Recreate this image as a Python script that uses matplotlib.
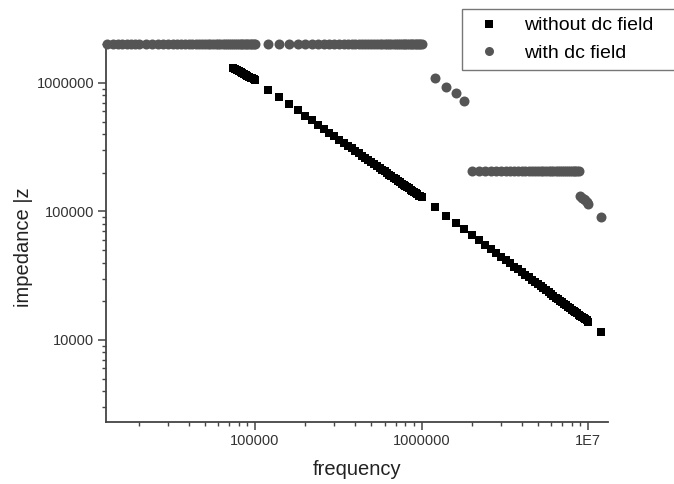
import numpy as np
import matplotlib
matplotlib.use('Agg')
import matplotlib.pyplot as plt
from matplotlib.ticker import LogLocator, NullFormatter

# frequencies in kHz, impedance |z in ohm
freq_khz_no_dc = [
    74, 76, 78, 80, 82, 84, 86, 88, 90, 92, 94, 96, 98, 100,
    120, 140, 160, 180, 200, 220, 240, 260, 280, 300, 320, 340, 360, 380, 400,
    420, 440, 460, 480, 500, 520, 540, 560, 580, 600, 620, 640, 660, 680, 700,
    720, 740, 760, 780, 800, 820, 840, 860, 880, 900, 920, 940, 960, 980, 1000,
    1200, 1400, 1600, 1800, 2000, 2200, 2400, 2600, 2800, 3000, 3200, 3400, 3600,
    3800, 4000, 4200, 4400, 4600, 4800, 5000, 5200, 5400, 5600, 5800, 6000, 6200,
    6400, 6600, 6800, 7000, 7200, 7400, 7600, 7800, 8000, 8200, 8400, 8600, 8800,
    9000, 9200, 9400, 9600, 9800, 10000, 12000,
]
z_no_dc = [
    1.309e6, 1.284e6, 1.260e6, 1.238e6, 1.216e6, 1.195e6, 1.175e6, 1.155e6,
    1.137e6, 1.119e6, 1.102e6, 1.085e6, 1.070e6, 1.054e6,
    889e3, 773e3, 684e3, 614e3, 558e3, 512e3, 472e3, 439e3, 411e3, 386e3,
    363e3, 344e3, 326e3, 311e3, 297e3, 284e3, 272e3, 261e3, 251e3, 242e3,
    233e3, 226e3, 218e3, 211e3, 205e3, 199e3, 193e3, 188e3, 183e3, 178e3,
    173e3, 169e3, 165e3, 161e3, 158e3, 154e3, 151e3, 148e3, 144e3, 142e3,
    139e3, 136e3, 133e3, 131e3, 129e3,
    108.0e3, 92.8e3, 81.6e3, 72.8e3, 65.8e3, 60.0e3, 55.2e3, 51.1e3, 47.5e3,
    44.5e3, 41.8e3, 39.4e3, 37.3e3, 35.4e3, 33.7e3, 32.1e3, 30.7e3, 29.4e3,
    28.2e3, 27.2e3, 26.1e3, 25.2e3, 24.3e3, 23.5e3, 22.8e3, 22.1e3, 21.4e3,
    20.8e3, 20.2e3, 19.6e3, 19.1e3, 18.6e3, 18.1e3, 17.7e3, 17.2e3, 16.8e3,
    16.4e3, 16.1e3, 15.7e3, 15.4e3, 15.1e3, 14.8e3, 14.5e3, 14.2e3, 13.9e3,
    11.6e3,
]

freq_khz_dc = [
    13, 14, 15, 16, 17, 18, 19, 20, 22, 24, 26, 28, 30, 32, 34, 36, 38, 40,
    42, 44, 46, 48, 50, 52, 54, 56, 58, 60, 62, 64, 66, 68, 70, 72, 74, 76,
    78, 80, 82, 84, 86, 88, 90, 92, 94, 96, 98, 100,
    120, 140, 160, 180, 200, 220, 240, 260, 280, 300, 320, 340, 360, 380, 400,
    420, 440, 460, 480, 500, 520, 540, 560, 580, 600, 620, 640, 660, 680, 700,
    720, 740, 760, 780, 800, 820, 840, 860, 880, 900, 920, 940, 960, 980, 1000,
    1200, 1400, 1600, 1800,
    2000, 2200, 2400, 2600, 2800, 3000, 3200, 3400, 3600, 3800, 4000, 4200,
    4400, 4600, 4800, 5000, 5200, 5400, 5600, 5800, 6000, 6200, 6400, 6600,
    6800, 7000, 7200, 7400, 7600, 7800, 8000, 8200, 8400, 8600, 8800,
    9000, 9200, 9400, 9600, 9800, 10000, 12000,
]
z_dc = [
    2.0e6, 2.0e6, 2.0e6, 2.0e6, 2.0e6, 2.0e6, 2.0e6, 2.0e6, 2.0e6, 2.0e6, 2.0e6, 2.0e6,
    2.0e6, 2.0e6, 2.0e6, 2.0e6, 2.0e6, 2.0e6, 2.0e6, 2.0e6, 2.0e6, 2.0e6, 2.0e6, 2.0e6,
    2.0e6, 2.0e6, 2.0e6, 2.0e6, 2.0e6, 2.0e6, 2.0e6, 2.0e6, 2.0e6, 2.0e6, 2.0e6, 2.0e6,
    2.0e6, 2.0e6, 2.0e6, 2.0e6, 2.0e6, 2.0e6, 2.0e6, 2.0e6, 2.0e6, 2.0e6, 2.0e6, 2.0e6,
    2.0e6, 2.0e6, 2.0e6, 2.0e6, 2.0e6, 2.0e6, 2.0e6, 2.0e6, 2.0e6, 2.0e6, 2.0e6, 2.0e6,
    2.0e6, 2.0e6, 2.0e6, 2.0e6, 2.0e6, 2.0e6, 2.0e6, 2.0e6, 2.0e6, 2.0e6, 2.0e6, 2.0e6,
    2.0e6, 2.0e6, 2.0e6, 2.0e6, 2.0e6, 2.0e6, 2.0e6, 2.0e6, 2.0e6, 2.0e6, 2.0e6, 2.0e6,
    2.0e6, 2.0e6, 2.0e6, 2.0e6, 2.0e6, 2.0e6, 2.0e6, 2.0e6, 2.0e6,
    1.09e6, 9.31e5, 8.36e5, 7.24e5,
    2.05e5, 2.05e5, 2.05e5, 2.05e5, 2.05e5, 2.05e5, 2.05e5, 2.05e5, 2.05e5, 2.05e5,
    2.05e5, 2.05e5, 2.05e5, 2.05e5, 2.05e5, 2.05e5, 2.05e5, 2.05e5, 2.05e5, 2.05e5,
    2.05e5, 2.05e5, 2.05e5, 2.05e5, 2.05e5, 2.05e5, 2.05e5, 2.05e5, 2.05e5, 2.05e5,
    2.05e5, 2.05e5, 2.05e5, 2.05e5, 2.05e5,
    1.32e5, 1.28e5, 1.25e5, 1.22e5, 1.19e5, 1.15e5, 8.98e4,
]

x_ticks = [1e5, 1e6, 1e7]
x_tick_labels = ['100000', '1000000', '1E7']
y_ticks = [1e4, 1e5, 1e6]
y_tick_labels = ['10000', '100000', '1000000']

plt.rcParams['font.family'] = ['Liberation Sans', 'DejaVu Sans']

fig = plt.figure(figsize=(6.74, 4.84), dpi=100)
ax = fig.add_axes([0.1573, 0.1281, 0.7448, 0.7851])

ax.plot(np.array(freq_khz_no_dc) * 1e3, z_no_dc, 's', color='black', ms=6.4, mew=0,
        label='without dc field', clip_on=False, zorder=3)
ax.plot(np.array(freq_khz_dc) * 1e3, z_dc, 'o', color='#555555', ms=7.2, mew=0,
        label='with dc field', clip_on=False, zorder=3)

ax.set_xscale('log')
ax.set_yscale('log')
ax.set_xlim(12740, 1.318e7)
ax.set_ylim(2300, 2.084e6)

ax.set_xticks(x_ticks, x_tick_labels)
ax.set_yticks(y_ticks, y_tick_labels)
for axis in (ax.xaxis, ax.yaxis):
    axis.set_minor_locator(LogLocator(base=10, subs=np.arange(2, 10)))
    axis.set_minor_formatter(NullFormatter())

for side in ('top', 'right'):
    ax.spines[side].set_visible(False)
for side in ('left', 'bottom'):
    ax.spines[side].set_color('#444444')
    ax.spines[side].set_linewidth(1.3)

ax.tick_params(which='major', direction='out', length=5.5, width=1.1, color='#444444',
               labelsize=10.5, labelcolor='#333333', pad=3)
ax.tick_params(which='minor', direction='out', length=3, width=1.0, color='#444444')

ax.set_xlabel('frequency', fontsize=14.5, color='#222222')
ax.xaxis.set_label_coords(0.5, -0.1)
ax.set_ylabel('impedance |z', fontsize=14.5, color='#222222')
ax.yaxis.set_label_coords(-0.145, 0.46)

leg = ax.legend(loc='upper left', bbox_to_anchor=(0.6855, 0.845, 0.33, 0.1364),
                bbox_transform=fig.transFigure, mode='expand', borderaxespad=0,
                fontsize=14, fancybox=False, framealpha=1, edgecolor='#777777',
                markerscale=0.9)
leg.get_frame().set_linewidth(1.0)

fig.savefig('out.png', dpi=100)
